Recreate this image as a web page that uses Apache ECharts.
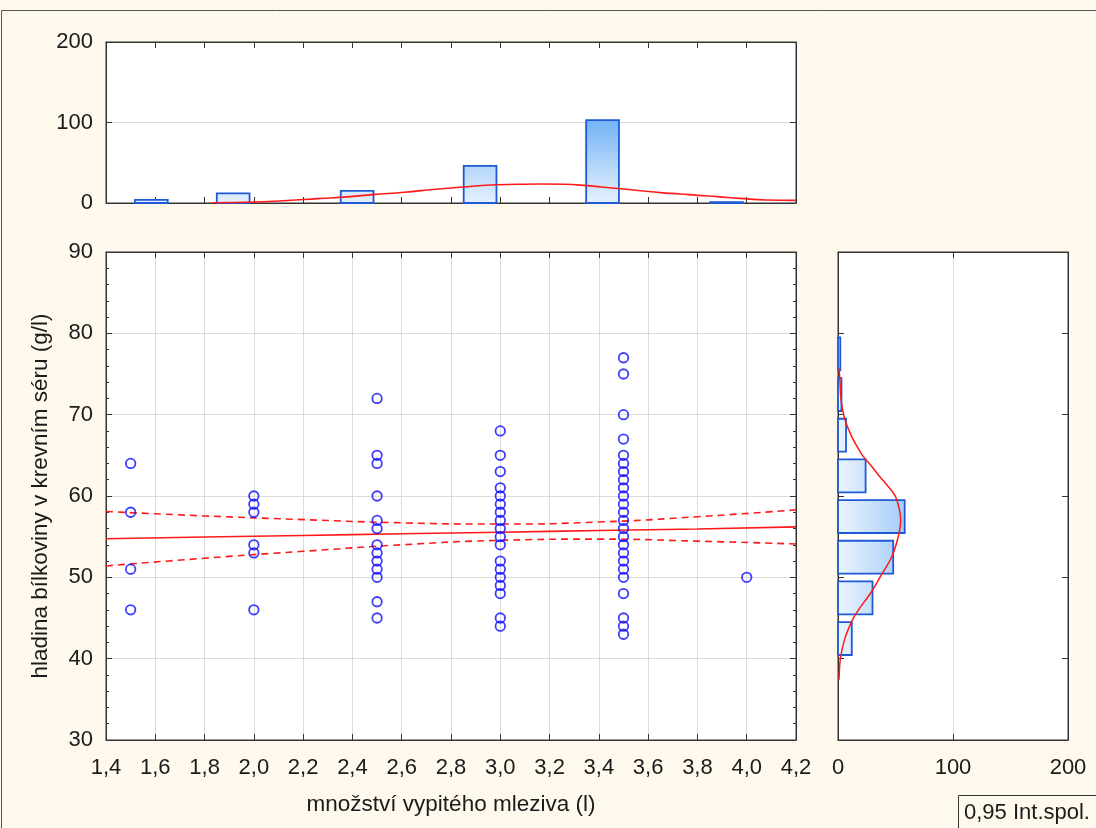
<!DOCTYPE html>
<html>
<head>
<meta charset="utf-8">
<script src="https://cdn.jsdelivr.net/npm/echarts@6/dist/echarts.min.js"></script>
<style>
html,body{margin:0;padding:0;background:#fff8ec;}
#chart{width:1096px;height:828px;}
</style>
</head>
<body>
<div id="chart"></div>
<script>
// ---------- data ----------
const xLevels = [1.5, 2.0, 2.5, 3.0, 3.5, 4.0];
const protein15 = [64, 58, 51, 46];
const protein20 = [60, 59, 58, 54, 53, 46];
const protein25 = [72, 65, 64, 60, 57, 56, 54, 53, 52, 51, 50, 47, 45];
const protein30 = [68, 65, 63, 61, 60, 59, 58, 57, 56, 55, 54, 52, 51, 50, 49, 48, 45, 44];
const protein35 = [77, 75, 70, 67, 65, 64, 63, 62, 61, 60, 59, 58, 57, 56, 55, 54, 53, 52, 51, 50, 48, 45, 44, 43];
const protein40 = [50];

// regression line and 0.95 confidence band
const fitX     = [1.4, 1.8, 2.2, 2.6, 3.0, 3.4, 3.8, 4.2];
const fitLine  = [54.75, 54.95, 55.15, 55.35, 55.55, 55.75, 55.95, 56.2];
const fitUpper = [58.1, 57.55, 57.1, 56.7, 56.55, 56.8, 57.45, 58.3];
const fitLower = [51.4, 52.35, 53.2, 54.0, 54.55, 54.7, 54.45, 54.1];

// top histogram (x distribution)
const topBarCenter = [1.584, 1.916, 2.419, 2.918, 3.415, 3.918];
const topBarCount  = [4, 12, 15, 46, 103, 1];
const topCurveX = [1.83, 2.0, 2.1, 2.26, 2.39, 2.48, 2.61, 2.68, 2.75, 2.85, 2.94, 3.07, 3.17, 3.26, 3.35, 3.41, 3.5, 3.58, 3.65, 3.73, 3.8, 3.88, 3.97, 4.08, 4.2];
const topCurveY = [0.3, 1.2, 2.5, 5.4, 7.9, 10.4, 13.3, 15.4, 17.4, 19.9, 22, 23.2, 23.6, 23.2, 21.6, 19.9, 17.4, 14.9, 12.9, 11.2, 9.5, 7.9, 5.8, 3.7, 3.2];

// right histogram (y distribution), bins of width 5
const rightBinLow   = [75, 70, 65, 60, 55, 50, 45, 40];
const rightBinCount = [2, 3, 7, 24, 58, 48, 30, 12];
const rightCurveY = [37.4, 39.9, 42.4, 44.9, 46.2, 48.2, 50.3, 52.4, 54.9, 57.0, 58.2, 59.9, 61.2, 62.4, 63.7, 64.9, 66.1, 67.4, 69.1, 70.7, 72.4, 74.1, 75.7];
const rightCurveN = [0.9, 2.0, 5.8, 13.0, 18.8, 29.0, 37.7, 46.4, 52.2, 54.5, 53.6, 50.1, 43.5, 36.2, 29.0, 21.7, 16.5, 11.6, 6.7, 3.8, 2.3, 1.7, 0.9];

const mainXTicks = {min: 1.4, max: 4.2, interval: 0.2};
const mainYTicks = {min: 30, max: 90, interval: 10};
const histTicks  = {min: 0, max: 200, interval: 100};

// ---------- build ----------
const FONT = "'Liberation Sans', Arial, sans-serif";
const TXT = '#1b1b1b';
const AX = '#333';
const GRIDC = '#dcdcdc';

const columns = [protein15, protein20, protein25, protein30, protein35, protein40];
const scatterData = [];
columns.forEach((col, i) => col.forEach(v => scatterData.push([xLevels[i], v])));

const zip = (a, b) => a.map((v, i) => [v, b[i]]);

const commaFmt = v => v.toFixed(1).replace('.', ',');

function axisBase(extra) {
  return Object.assign({
    type: 'value',
    axisLine: {show: true, onZero: false, lineStyle: {color: AX, width: 1}},
    axisTick: {show: true, inside: true, length: 6, lineStyle: {color: AX, width: 1}},
    axisLabel: {show: false},
    splitLine: {show: false}
  }, extra);
}
const lblStyle = {show: true, fontSize: 22, color: TXT, fontFamily: FONT};
const titleStyle = {fontSize: 22.5, color: TXT, fontFamily: FONT};
const minor = {show: true, splitNumber: 5, length: 3, lineStyle: {color: AX, width: 1}};

const topBarWidth = 0.133;
const rightBarInsetLow = 0.45, rightBarInsetHigh = 0.5;

const option = {
  animation: false,
  backgroundColor: '#fff8ec',
  textStyle: {fontFamily: FONT},
  grid: [
    {left: 106, top: 252, width: 690, height: 488, show: true, backgroundColor: '#fff', borderColor: AX, borderWidth: 1},
    {left: 106, top: 42, width: 690, height: 161, show: true, backgroundColor: '#fff', borderColor: AX, borderWidth: 1},
    {left: 838, top: 252, width: 230, height: 488, show: true, backgroundColor: '#fff', borderColor: AX, borderWidth: 1}
  ],
  xAxis: [
    axisBase(Object.assign({gridIndex: 0, position: 'bottom',
      axisLabel: Object.assign({}, lblStyle, {margin: 17, formatter: commaFmt}),
      splitLine: {show: true, lineStyle: {color: GRIDC, width: 1}},
      name: 'množství vypitého mleziva (l)', nameLocation: 'middle', nameGap: 53,
      nameTextStyle: titleStyle}, mainXTicks)),
    axisBase(Object.assign({gridIndex: 0, position: 'top'}, mainXTicks)),
    axisBase(Object.assign({gridIndex: 1, position: 'bottom'}, mainXTicks)),
    axisBase(Object.assign({gridIndex: 1, position: 'top'}, mainXTicks)),
    axisBase(Object.assign({gridIndex: 2, position: 'bottom',
      axisLabel: Object.assign({}, lblStyle, {margin: 17}),
      splitLine: {show: true, lineStyle: {color: GRIDC, width: 1}}}, histTicks)),
    axisBase(Object.assign({gridIndex: 2, position: 'top'}, histTicks))
  ],
  yAxis: [
    axisBase(Object.assign({gridIndex: 0, position: 'left',
      axisLabel: Object.assign({}, lblStyle, {margin: 13}),
      minorTick: minor,
      splitLine: {show: true, lineStyle: {color: GRIDC, width: 1}},
      name: 'hladina bílkoviny v krevním séru (g/l)', nameLocation: 'middle', nameGap: 54, nameRotate: 90,
      nameTextStyle: titleStyle}, mainYTicks)),
    axisBase(Object.assign({gridIndex: 0, position: 'right', minorTick: minor}, mainYTicks)),
    axisBase(Object.assign({gridIndex: 1, position: 'left',
      axisLabel: Object.assign({}, lblStyle, {margin: 13}),
      splitLine: {show: true, lineStyle: {color: GRIDC, width: 1}}}, histTicks)),
    axisBase(Object.assign({gridIndex: 1, position: 'right'}, histTicks)),
    axisBase(Object.assign({gridIndex: 2, position: 'left'}, mainYTicks)),
    axisBase(Object.assign({gridIndex: 2, position: 'right'}, mainYTicks))
  ],
  series: [
    {
      type: 'scatter', xAxisIndex: 0, yAxisIndex: 0,
      data: scatterData, symbol: 'circle', symbolSize: 9.5,
      itemStyle: {color: 'rgba(0,0,0,0)', borderColor: '#0d0dff', borderWidth: 1.8},
      z: 5
    },
    {
      type: 'line', xAxisIndex: 0, yAxisIndex: 0, data: zip(fitX, fitLine),
      symbol: 'none', smooth: true, lineStyle: {color: '#ff1a1a', width: 1.6}, z: 4
    },
    {
      type: 'line', xAxisIndex: 0, yAxisIndex: 0, data: zip(fitX, fitUpper),
      symbol: 'none', smooth: true, lineStyle: {color: '#ff1a1a', width: 1.6, type: [7, 5]}, z: 4
    },
    {
      type: 'line', xAxisIndex: 0, yAxisIndex: 0, data: zip(fitX, fitLower),
      symbol: 'none', smooth: true, lineStyle: {color: '#ff1a1a', width: 1.6, type: [7, 5]}, z: 4
    },
    {
      type: 'custom', xAxisIndex: 2, yAxisIndex: 2,
      data: zip(topBarCenter, topBarCount),
      renderItem: function (params, api) {
        const c = api.value(0), h = api.value(1);
        const p0 = api.coord([c - topBarWidth / 2, h]);
        const p1 = api.coord([c + topBarWidth / 2, 0]);
        const gTop = api.coord([c, 103])[1];
        return {
          type: 'rect',
          shape: {x: p0[0], y: p0[1], width: p1[0] - p0[0], height: p1[1] - p0[1]},
          style: {
            fill: new echarts.graphic.LinearGradient(0, gTop, 0, p1[1], [
              {offset: 0, color: '#74b3f6'}, {offset: 1, color: '#e6f1fd'}], true),
            stroke: '#1f5ad6', lineWidth: 1.8
          }
        };
      },
      z: 3
    },
    {
      type: 'line', xAxisIndex: 2, yAxisIndex: 2, data: zip(topCurveX, topCurveY),
      symbol: 'none', smooth: true, lineStyle: {color: '#ff1a1a', width: 1.6}, z: 4
    },
    {
      type: 'custom', xAxisIndex: 4, yAxisIndex: 4,
      data: zip(rightBinCount, rightBinLow),
      renderItem: function (params, api) {
        const n = api.value(0), lo = api.value(1);
        const p0 = api.coord([0, lo + 5 - rightBarInsetHigh]);
        const p1 = api.coord([n, lo + rightBarInsetLow]);
        const gEnd = api.coord([58, lo])[0];
        return {
          type: 'rect',
          shape: {x: p0[0], y: p0[1], width: Math.max(p1[0] - p0[0], 1), height: p1[1] - p0[1]},
          style: {
            fill: new echarts.graphic.LinearGradient(p0[0], 0, gEnd, 0, [
              {offset: 0, color: '#ebf4fe'}, {offset: 1, color: '#a5cdf8'}], true),
            stroke: '#1f5ad6', lineWidth: 1.8
          }
        };
      },
      z: 3
    },
    {
      type: 'line', xAxisIndex: 4, yAxisIndex: 4, data: zip(rightCurveN, rightCurveY),
      symbol: 'none', smooth: 0.3, lineStyle: {color: '#ff1a1a', width: 1.5}, z: 4
    }
  ],
  graphic: [
    {type: 'rect', shape: {x: 1.5, y: 10.5, width: 1200, height: 900},
     style: {fill: 'none', stroke: '#555', lineWidth: 1}, silent: true, z: -1},
    {type: 'rect', shape: {x: 958.5, y: 795.5, width: 200, height: 50},
     style: {fill: 'none', stroke: '#333', lineWidth: 1}, silent: true},
    {type: 'text', x: 964, y: 813,
     style: {text: '0,95 Int.spol.', fontSize: 22, fontFamily: FONT, fill: TXT, verticalAlign: 'middle', align: 'left'}}
  ]
};

const chart = echarts.init(document.getElementById('chart'), null, {renderer: 'canvas'});
chart.setOption(option);
</script>
</body>
</html>
